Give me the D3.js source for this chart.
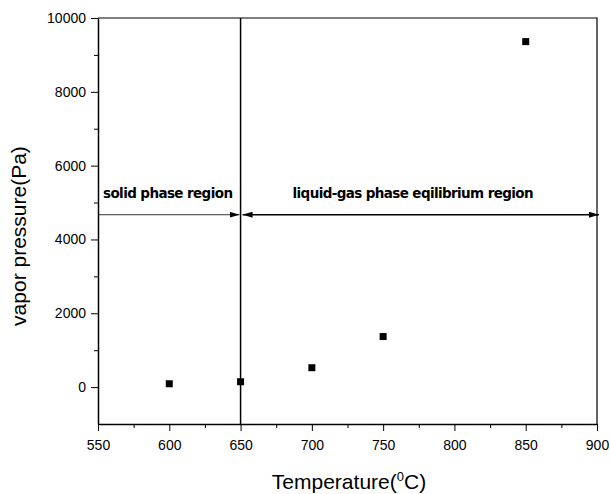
<!DOCTYPE html>
<html>
<head>
<meta charset="utf-8">
<script src="https://cdn.jsdelivr.net/npm/d3@7"></script>
<style>
  body { margin: 0; background: #fff; }
  svg { display: block; font-family: "Liberation Sans", Arial, sans-serif; }
  .tick text { font-size: 14px; fill: #000; }
  .axis path, .axis line { stroke: #000; }
  .region-lbl { font-family: "DejaVu Sans", Verdana, sans-serif; font-size: 13.5px; font-weight: 700; }
  .axis-title { font-size: 21px; }
</style>
</head>
<body>
<svg id="chart" width="610" height="494"></svg>
<script>
/* vapor pressure vs temperature */
const temps = [600, 650, 700, 750, 850];
const pressures = [90, 145, 525, 1370, 9360];
const xTicks = [550, 600, 650, 700, 750, 800, 850, 900];
const yTicks = [0, 2000, 4000, 6000, 8000, 10000];
const phaseBoundary = 650;     // °C, solid / liquid-gas split
const arrowLevel = 4670;       // Pa, height of the region arrows
const regions = [
  { label: "solid phase region", from: 550, to: 650 },
  { label: "liquid-gas phase eqilibrium region", from: 650, to: 900 },
];

const W = 610, H = 494;
const m = { t: 18, r: 13, b: 70, l: 98 };
const iw = W - m.l - m.r, ih = H - m.t - m.b;

const svg = d3.select("#chart");
const defs = svg.append("defs");
[["arrEnd", "auto"], ["arrStart", "auto-start-reverse"]].forEach(([id, orient]) => {
  defs.append("marker").attr("id", id).attr("viewBox", "0 0 10 6")
    .attr("refX", 10).attr("refY", 3).attr("markerWidth", 10).attr("markerHeight", 6)
    .attr("markerUnits", "userSpaceOnUse").attr("orient", orient)
    .append("path").attr("d", "M0,0 L10,3 L0,6 Z").attr("fill", "#000");
});

const g = svg.append("g").attr("transform", `translate(${m.l},${m.t})`);
const x = d3.scaleLinear().domain([550, 900]).range([0, iw]);
const y = d3.scaleLinear().domain([-1000, 10000]).range([ih, 0]);

// minor ticks first, then major axes on top
g.append("g").attr("class", "axis").attr("transform", `translate(0,${ih})`)
  .call(d3.axisBottom(x).tickValues(d3.range(575, 900, 50)).tickSize(4).tickFormat("").tickSizeOuter(0))
  .select(".domain").remove();
g.append("g").attr("class", "axis")
  .call(d3.axisLeft(y).tickValues(d3.range(-1000, 10000, 2000).filter(v => v > -1000)).tickSize(4).tickFormat("").tickSizeOuter(0))
  .select(".domain").remove();

g.append("g").attr("class", "axis").attr("transform", `translate(0,${ih})`)
  .call(d3.axisBottom(x).tickValues(xTicks).tickSize(7).tickPadding(9).tickFormat(d3.format("d")).tickSizeOuter(0));
g.append("g").attr("class", "axis")
  .call(d3.axisLeft(y).tickValues(yTicks).tickSize(7).tickPadding(5).tickFormat(d3.format("d")).tickSizeOuter(0));
g.selectAll(".axis .domain").attr("stroke-width", 1.5);

// frame top and right
g.append("path").attr("d", `M0,0 H${iw} V${ih}`).attr("fill", "none").attr("stroke", "#000").attr("stroke-width", 1.2);

// phase boundary
g.append("line").attr("x1", x(phaseBoundary)).attr("x2", x(phaseBoundary))
  .attr("y1", 0).attr("y2", ih).attr("stroke", "#000").attr("stroke-width", 1.5);

// region arrows + labels
g.append("line").attr("x1", x(regions[0].from)).attr("x2", x(regions[0].to) - 1)
  .attr("y1", y(arrowLevel)).attr("y2", y(arrowLevel))
  .attr("stroke", "#000").attr("stroke-width", 0.8).attr("marker-end", "url(#arrEnd)");
g.append("line").attr("x1", x(regions[1].from) + 2).attr("x2", x(regions[1].to) + 2)
  .attr("y1", y(arrowLevel)).attr("y2", y(arrowLevel))
  .attr("stroke", "#000").attr("stroke-width", 1.5)
  .attr("marker-start", "url(#arrStart)").attr("marker-end", "url(#arrEnd)");

g.append("text").attr("class", "region-lbl").attr("x", x(regions[0].from) + 5).attr("y", y(arrowLevel) - 17)
  .attr("textLength", 130).text(regions[0].label);
g.append("text").attr("class", "region-lbl").attr("x", x(regions[1].from) + 52).attr("y", y(arrowLevel) - 17)
  .attr("textLength", 241).text(regions[1].label);

// data points
const pts = temps.map((t, i) => ({ t, p: pressures[i] }));
g.selectAll("rect.pt").data(pts).join("rect").attr("class", "pt")
  .attr("x", d => x(d.t) - 3.5).attr("y", d => y(d.p) - 3.5)
  .attr("width", 7).attr("height", 7).attr("fill", "#000");

// axis titles
svg.append("text").attr("class", "axis-title").attr("text-anchor", "middle")
  .attr("transform", `translate(26,236) rotate(-90)`)
  .text("vapor pressure(Pa)");
const xt = svg.append("text").attr("class", "axis-title").attr("text-anchor", "middle")
  .attr("x", 349).attr("y", 489);
xt.append("tspan").text("Temperature(");
xt.append("tspan").attr("dy", -8).style("font-size", "13px").text("0");
xt.append("tspan").attr("dy", 8).text("C)");
</script>
</body>
</html>
